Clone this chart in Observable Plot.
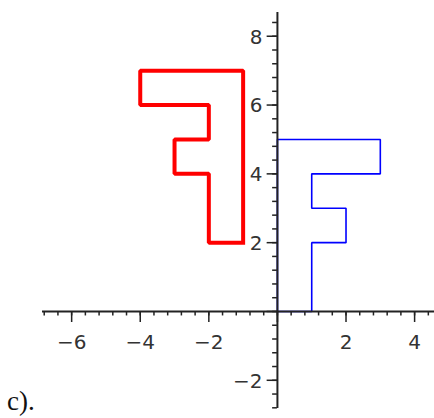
<!DOCTYPE html>
<html>
<head>
<meta charset="utf-8">
<script src="https://cdn.jsdelivr.net/npm/d3@7"></script>
<script src="https://cdn.jsdelivr.net/npm/@observablehq/plot@0.6"></script>
<style>
  html, body { margin: 0; padding: 0; background: #fff; }
  #wrap { position: relative; width: 434px; height: 418px; overflow: hidden; }
  #caption { position: absolute; left: 7px; top: 388px; line-height: 1; font-family: "Liberation Serif", "DejaVu Serif", serif; font-size: 27px; color: #111; }
</style>
</head>
<body>
<div id="wrap"><div id="caption">c).</div></div>
<script>
// Red "F" (image)
const redX = [-1, -1, -4, -4, -2, -2, -3, -3, -2, -2, -1];
const redY = [ 2,  7,  7,  6,  6,  5,  5,  4,  4,  2,  2];
// Blue "F" (original)
const blueX = [0, 1, 1, 2, 2, 1, 1, 3, 3, 0, 0];
const blueY = [0, 0, 2, 2, 3, 3, 4, 4, 5, 5, 0];

// Axis tick labels
const xLabels = [-6, -4, -2, 2, 4];
const yLabels = [-2, 2, 4, 6, 8];
const xMajor = [-6, -4, -2, 0, 2, 4];
const yMajor = [-2, 0, 2, 4, 6, 8];
const xMinor = d3.range(-17, 12).map(i => +(i * 0.4).toFixed(1));
const yMinor = d3.range(-7, 22).map(i => +(i * 0.4).toFixed(1));

const red = redX.map((x, i) => ({x, y: redY[i]}));
const blue = blueX.map((x, i) => ({x, y: blueY[i]}));
const fmt = d => String(d).replace("-", "\u2212");

const chart = Plot.plot({
  width: 434,
  height: 418,
  marginLeft: 42,
  marginRight: 0,
  marginTop: 12,
  marginBottom: 10,
  x: {domain: [-6.85, 4.58], axis: null},
  y: {domain: [-2.82, 8.69], axis: null},
  style: {background: "#fff"},
  marks: [
    Plot.line(blue, {x: "x", y: "y", stroke: "#0000ff", strokeWidth: 1.6, strokeLinejoin: "miter", strokeLinecap: "square"}),
    Plot.line(red, {x: "x", y: "y", stroke: "#ff0000", strokeWidth: 4, strokeLinejoin: "miter", strokeLinecap: "square"}),
    Plot.ruleY([0], {stroke: "#222", strokeWidth: 2}),
    Plot.ruleX([0], {stroke: "#222", strokeWidth: 2}),
    Plot.ruleX(xMinor, {y1: 0, y2: -0.13, stroke: "#222", strokeWidth: 1.5}),
    Plot.ruleX(xMajor, {y1: 0, y2: -0.32, stroke: "#222", strokeWidth: 1.5}),
    Plot.ruleY(yMinor, {x1: -0.14, x2: 0, stroke: "#222", strokeWidth: 1.5}),
    Plot.ruleY(yMajor, {x1: -0.3, x2: 0, stroke: "#222", strokeWidth: 1.5}),
    Plot.text(xLabels, {x: d => d, y: 0, dy: 31, text: fmt, fontSize: 20, fontFamily: "DejaVu Sans", fill: "#333"}),
    Plot.text(yLabels, {x: 0, y: d => d, dx: -15, dy: 1, text: fmt, textAnchor: "end", fontSize: 20, fontFamily: "DejaVu Sans", fill: "#333"})
  ]
});
document.getElementById("wrap").prepend(chart);
</script>
</body>
</html>
